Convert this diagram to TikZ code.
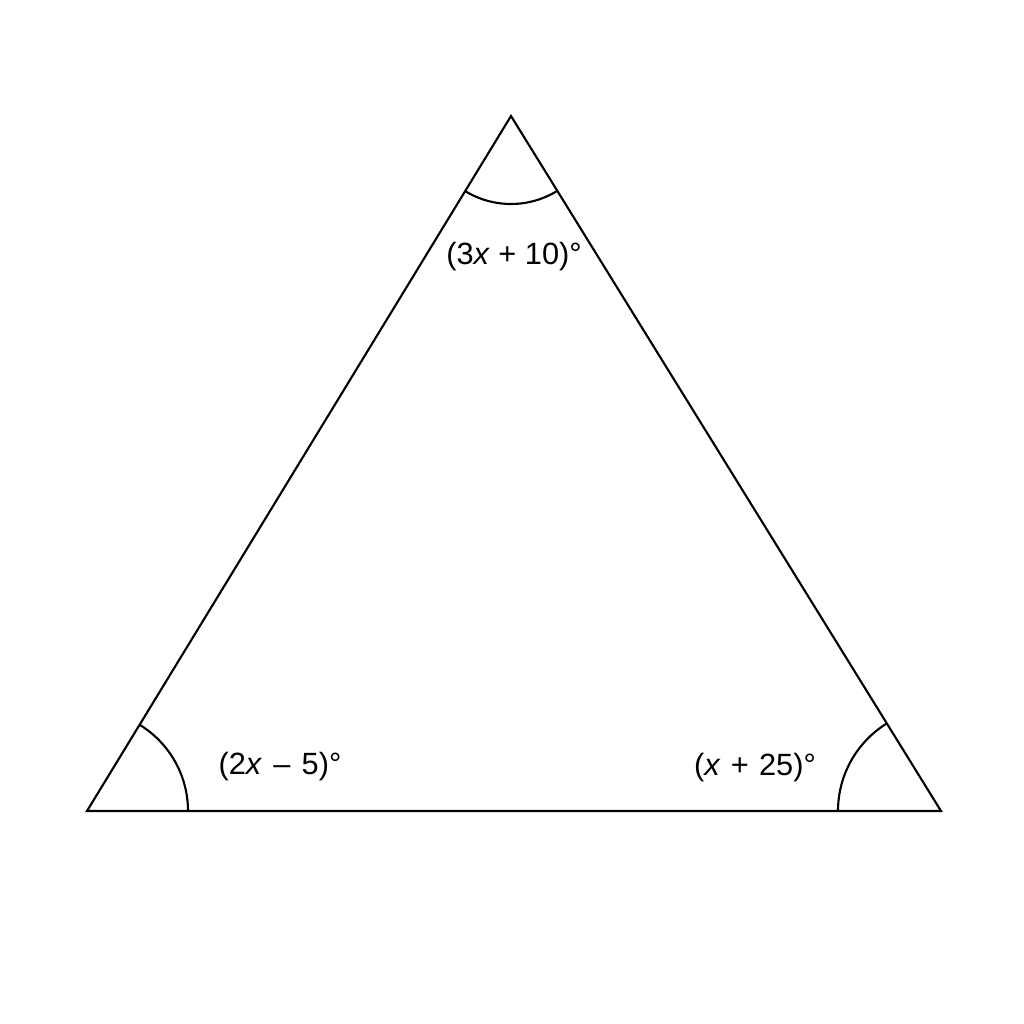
\documentclass[tikz,border=0pt]{standalone}
\usepackage{fontspec}
\setmainfont{Liberation Sans}
\begin{document}
\begin{tikzpicture}[line width=1.2pt, lbl/.style={font=\fontsize{17.5}{21}\selectfont}]

\useasboundingbox (0,0) rectangle (20.48,20.48);

% Vertices
\coordinate (A) at (1.74,4.26);
\coordinate (B) at (18.82,4.26);
\coordinate (C) at (10.22,18.16);

% Triangle
\draw (A) -- (B) -- (C) -- cycle;

% Angle arcs
\draw ([shift={(0:2.02)}]A) arc (0:58.6:2.02);
\draw ([shift={(121.7:2.06)}]B) arc (121.7:180:2.06);
\draw ([shift={(238.6:1.76)}]C) arc (238.6:301.7:1.76);

% Labels
\node[lbl] (angC) at (10.28,15.34) {(3\textit{x} + 10)°};
\node[lbl] (angA) at (5.6,5.14) {(2\textit{x}\hspace{1.5pt} – \hspace{1.5pt}5)°};
\node[lbl] (angB) at (15.1,5.12) {(\textit{x}\hspace{1pt} + \hspace{1pt}25)°};

\end{tikzpicture}
\end{document}
